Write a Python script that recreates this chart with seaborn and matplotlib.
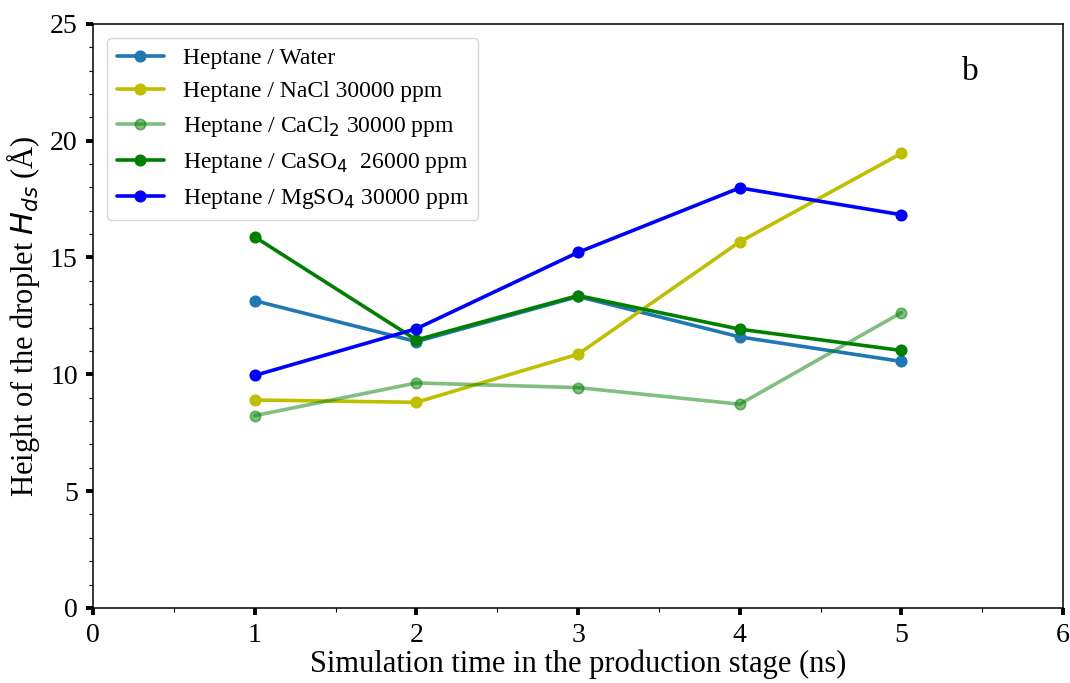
import numpy as np
import pandas as pd
import matplotlib
matplotlib.use("Agg")
import matplotlib.pyplot as plt
from matplotlib.ticker import MultipleLocator
import seaborn as sns

# Simulation time (ns)
time_ns = [1, 2, 3, 4, 5]

# Droplet height H_ds (Å) per system
water = [13.15, 11.40, 13.33, 11.60, 10.55]
nacl = [8.90, 8.80, 10.86, 15.67, 19.46]
cacl2 = [8.23, 9.63, 9.43, 8.72, 12.64]
caso4 = [15.88, 11.47, 13.37, 11.93, 11.02]
mgso4 = [9.95, 11.95, 15.22, 17.98, 16.83]

labels = [
    "Heptane / Water",
    "Heptane / NaCl 30000 ppm",
    "Heptane / CaCl$_2$ 30000 ppm",
    "Heptane / CaSO$_4$  26000 ppm",
    "Heptane / MgSO$_4$ 30000 ppm",
]
series = [water, nacl, cacl2, caso4, mgso4]
colors = ["#1f77b4", "#bfbf00", "#008000", "#008000", "#0000ff"]
alphas = [1.0, 1.0, 0.5, 1.0, 1.0]

sns.set_style("white")
plt.rcParams["font.family"] = ["Liberation Serif", "DejaVu Serif"]
plt.rcParams["mathtext.fontset"] = "dejavusans"
plt.rcParams["text.color"] = "black"
plt.rcParams["axes.labelcolor"] = "black"
plt.rcParams["xtick.color"] = "black"
plt.rcParams["ytick.color"] = "black"

fig = plt.figure(figsize=(10.70, 6.83), dpi=100)
ax = fig.add_axes([0.087, 0.110, 0.9065, 0.855])

for lab, vals, col, a in zip(labels, series, colors, alphas):
    df = pd.DataFrame({"t": time_ns, "h": vals})
    sns.lineplot(data=df, x="t", y="h", ax=ax, color=col, alpha=a,
                 marker="o", markersize=7.5, markeredgewidth=1.2,
                 markeredgecolor=col, linewidth=2.6, label=lab)

ax.set_xlim(0, 6)
ax.set_ylim(0, 25)
ax.xaxis.set_major_locator(MultipleLocator(1))
ax.xaxis.set_minor_locator(MultipleLocator(0.5))
ax.yaxis.set_major_locator(MultipleLocator(5))
ax.yaxis.set_minor_locator(MultipleLocator(1))
ax.tick_params(axis="both", which="major", direction="out", length=5,
               width=2.8, labelsize=20, colors="black", bottom=True,
               left=True, pad=6)
ax.tick_params(axis="both", which="minor", direction="out", length=3,
               width=0.8, colors="black", bottom=True, left=True)
for s in ax.spines.values():
    s.set_color("black")
    s.set_linewidth(1.1)

ax.set_xlabel("Simulation time in the production stage (ns)", fontsize=22,
              labelpad=1)
ax.set_ylabel("Height of the droplet $H_{ds}$ (Å)", fontsize=22, labelpad=6)

ax.text(0.904, 0.918, "b", transform=ax.transAxes, fontsize=24,
        ha="center", va="center", color="black")

leg = ax.legend(loc="upper left", fontsize=17, frameon=True,
                borderaxespad=0.6, handlelength=2.0, labelspacing=0.5,
                borderpad=0.4)
leg.get_frame().set_edgecolor("#cccccc")
for t in leg.get_texts():
    t.set_color("black")

fig.savefig("out.png", dpi=100)
